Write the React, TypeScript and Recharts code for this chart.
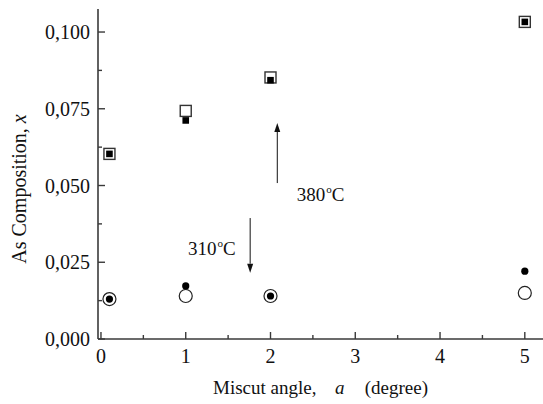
import React from 'react';
import { ScatterChart, Scatter, XAxis, YAxis, ReferenceLine, ReferenceDot } from 'recharts';

const angles = [0.1, 1, 2, 5];
const as380Open = [0.0603, 0.0743, 0.0852, 0.1033];
const as380Filled = [0.0603, 0.0712, 0.0843, 0.1033];
const as310Open = [0.013, 0.014, 0.014, 0.015];
const as310Filled = [0.013, 0.0173, 0.014, 0.0221];

const xTicks = [0, 0.5, 1, 1.5, 2, 2.5, 3, 3.5, 4, 4.5, 5];
const yTicks = [0, 0.0125, 0.025, 0.0375, 0.05, 0.0625, 0.075, 0.0875, 0.1];

const upArrow = [{ x: 2.08, y: 0.0508 }, { x: 2.08, y: 0.0704 }];
const downArrow = [{ x: 1.76, y: 0.0394 }, { x: 1.76, y: 0.0216 }];
const label380 = { x: 2.31, y: 0.045, text: '380' };
const label310 = { x: 1.026, y: 0.0274, text: '310' };

const FONT = "'Liberation Serif', 'Times New Roman', serif";
const AXIS = '#3a3a3a';
const txt = { fontFamily: FONT, fill: '#111' };

const toPoints = (ys: number[]) => angles.map((a, i) => ({ x: a, y: ys[i] }));

const isMajor = (v: number, step: number) => Math.abs(v / step - Math.round(v / step)) < 1e-6;

const renderYTick = (props: any) => {
  const { x, y, payload } = props;
  const v = payload.value;
  const major = isMajor(v, 0.025);
  return (
    <g key={`yt-${v}`} fontFamily={FONT}>
      <line x1={x} y1={y} x2={x + (major ? 7 : 4)} y2={y} stroke={AXIS} strokeWidth={1.4} />
      {major && (
        <text x={x - 8} y={y} dy="0.36em" textAnchor="end" fontFamily={FONT} fontSize={20} fill="#111" style={{ fontFamily: FONT }}>
          {v.toFixed(3).replace('.', ',')}
        </text>
      )}
    </g>
  );
};

const renderXTick = (props: any) => {
  const { x, y, payload } = props;
  const v = payload.value;
  const major = isMajor(v, 1);
  return (
    <g key={`xt-${v}`} fontFamily={FONT}>
      <line x1={x} y1={y} x2={x} y2={y - (major ? 7 : 4)} stroke={AXIS} strokeWidth={1.4} />
      {major && (
        <text x={x} y={y + 24} textAnchor="middle" fontFamily={FONT} fontSize={20} fill="#111" style={{ fontFamily: FONT }}>
          {String(v)}
        </text>
      )}
    </g>
  );
};

const OpenSquare = (p: any) => (
  <rect x={p.cx - 5.5} y={p.cy - 5.5} width={11} height={11} fill="#fff" stroke="#333" strokeWidth={1.4} />
);
const FilledSquare = (p: any) => (
  <rect x={p.cx - 3.3} y={p.cy - 3.3} width={6.6} height={6.6} fill="#000" />
);
const OpenCircle = (p: any) => (
  <circle cx={p.cx} cy={p.cy} r={6.5} fill="#fff" stroke="#222" strokeWidth={1.2} />
);
const FilledCircle = (p: any) => <circle cx={p.cx} cy={p.cy} r={3.6} fill="#000" />;

const Arrow = (p: any) => {
  const { x1, y1, x2, y2 } = p;
  const dx = x2 - x1;
  const dy = y2 - y1;
  const len = Math.sqrt(dx * dx + dy * dy) || 1;
  const ux = dx / len;
  const uy = dy / len;
  const hl = 9;
  const hw = 3;
  const bx = x2 - ux * hl;
  const by = y2 - uy * hl;
  return (
    <g>
      <line x1={x1} y1={y1} x2={bx} y2={by} stroke="#111" strokeWidth={1} />
      <polygon
        points={`${x2},${y2} ${bx - uy * hw},${by + ux * hw} ${bx + uy * hw},${by - ux * hw}`}
        fill="#111"
      />
    </g>
  );
};

const tempText = (t: string) => (p: any) => (
  <text x={p.cx} y={p.cy} style={{ ...txt, fontSize: 19 }}>
    {t}
    <tspan dy={-8} dx={1} style={{ fontSize: 11 }}>o</tspan>
    <tspan dy={8}>C</tspan>
  </text>
);

const YLabel = (props: any) => {
  const vb = props.viewBox || { x: 0, y: 0, width: 0, height: 0 };
  const cx = vb.x + 19;
  const cy = vb.y + vb.height / 2 + 15;
  return (
    <text x={cx} y={cy} transform={`rotate(-90 ${cx} ${cy})`} textAnchor="middle" dy="0.35em" style={{ ...txt, fontSize: 20 }}>
      As Composition, <tspan fontStyle="italic">x</tspan>
    </text>
  );
};

const XLabel = (props: any) => {
  const vb = props.viewBox || { x: 0, y: 0, width: 0, height: 0 };
  const cx = vb.x + vb.width / 2;
  return (
    <g style={{ ...txt, fontSize: 19 }}>
      <text x={cx - 109} y={394} textAnchor="start">Miscut angle,</text>
      <text x={cx + 13} y={394} textAnchor="start" fontStyle="italic">a</text>
      <text x={cx + 106} y={394} textAnchor="end">(degree)</text>
    </g>
  );
};

export default function App() {
  return (
    <div style={{ position: 'absolute', left: 0, top: 0, width: 543, height: 404, overflow: 'hidden', background: '#fff' }}>
      <ScatterChart width={548} height={404} margin={{ top: 9, right: 2, bottom: 0, left: 0 }}>
        <XAxis
          xAxisId="top"
          orientation="top"
          type="number"
          dataKey="x"
          domain={[-0.035, 5.25]}
          allowDataOverflow
          height={0}
          tick={false}
          tickLine={false}
          axisLine={{ stroke: AXIS, strokeWidth: 1.6 }}
        />
        <XAxis
          type="number"
          dataKey="x"
          domain={[-0.035, 5.25]}
          allowDataOverflow
          ticks={xTicks}
          interval={0}
          height={65}
          tickSize={0}
          tickMargin={0}
          tickLine={false}
          tick={renderXTick}
          axisLine={{ stroke: AXIS, strokeWidth: 1.6 }}
          label={{ content: <XLabel /> }}
        />
        <YAxis
          type="number"
          dataKey="y"
          domain={[0, 0.1075]}
          allowDataOverflow
          ticks={yTicks}
          interval={0}
          width={98}
          tickSize={0}
          tickMargin={0}
          tickLine={false}
          tick={renderYTick}
          axisLine={{ stroke: AXIS, strokeWidth: 1.6 }}
          label={{ content: <YLabel /> }}
        />
        <Scatter data={toPoints(as380Open)} shape={OpenSquare} isAnimationActive={false} />
        <Scatter data={toPoints(as380Filled)} shape={FilledSquare} isAnimationActive={false} />
        <Scatter data={toPoints(as310Open)} shape={OpenCircle} isAnimationActive={false} />
        <Scatter data={toPoints(as310Filled)} shape={FilledCircle} isAnimationActive={false} />
        <ReferenceLine segment={upArrow} shape={Arrow} ifOverflow="visible" />
        <ReferenceLine segment={downArrow} shape={Arrow} ifOverflow="visible" />
        <ReferenceDot x={label380.x} y={label380.y} shape={tempText(label380.text)} ifOverflow="visible" />
        <ReferenceDot x={label310.x} y={label310.y} shape={tempText(label310.text)} ifOverflow="visible" />
      </ScatterChart>
    </div>
  );
}
